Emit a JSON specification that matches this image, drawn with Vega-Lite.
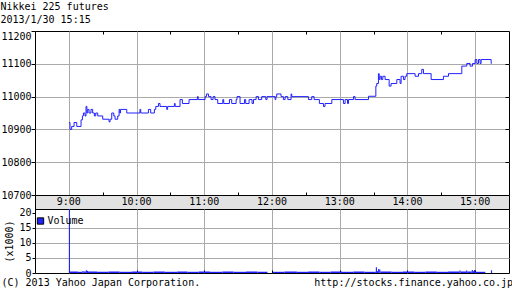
{
  "$schema": "https://vega.github.io/schema/vega-lite/v6.json",
  "padding": {"top": 2, "left": 0, "right": 0, "bottom": 0},
  "background": "white",
  "spacing": 0,
  "bounds": "flush",
  "resolve": {"legend": {"color": "independent"}},
  "title": {"text": ["Nikkei 225 futures", "2013/1/30 15:15"], "anchor": "start", "frame": "bounds", "font": "DejaVu Sans Mono", "fontSize": 10, "fontWeight": "normal", "color": "black", "lineHeight": 13, "offset": 5},
  "config": {
    "font": "DejaVu Sans Mono",
    "view": {"stroke": "black", "strokeWidth": 1},
    "axis": {"labelFont": "DejaVu Sans Mono", "labelFontSize": 10, "labelColor": "black", "titleFont": "DejaVu Sans Mono", "titleFontSize": 10, "titleFontWeight": "normal", "titleColor": "black", "gridColor": "#aaaaaa", "gridWidth": 1, "tickColor": "black", "domain": false}
  },
  "vconcat": [
    {
      "width": 474,
      "height": 164,
      "layer": [
        {
          "data": {"values": [
            {"t":540.1,"p":10921},{"t":541,"p":10900},{"t":542.5,"p":10909},{"t":544.6,"p":10921},{"t":547,"p":10909},{"t":550.8,"p":10929},{"t":552,"p":10941},{"t":552.9,"p":10950},{"t":554.3,"p":10941},{"t":555.2,"p":10970},{"t":556,"p":10950},{"t":556.7,"p":10961},{"t":557.9,"p":10950},{"t":559.6,"p":10961},{"t":561.1,"p":10950},{"t":562.6,"p":10941},{"t":563.8,"p":10950},{"t":565.6,"p":10941},{"t":570,"p":10931},{"t":575.6,"p":10923},{"t":576.5,"p":10931},{"t":578,"p":10950},{"t":579.8,"p":10941},{"t":580.9,"p":10931},{"t":583.3,"p":10941},{"t":584.5,"p":10961},{"t":585.2,"p":10950},{"t":585.8,"p":10961},{"t":591.3,"p":10950},{"t":603,"p":10961},{"t":603.7,"p":10950},{"t":610.5,"p":10961},{"t":612.5,"p":10950},{"t":615.8,"p":10961},{"t":617,"p":10970},{"t":619.4,"p":10979},{"t":620.8,"p":10970},{"t":626.7,"p":10961},{"t":627.5,"p":10970},{"t":633.5,"p":10979},{"t":634.2,"p":10970},{"t":638.5,"p":10991},{"t":640.6,"p":10979},{"t":646.5,"p":10991},{"t":653.9,"p":11000},{"t":654.6,"p":10991},{"t":660.7,"p":11000},{"t":661.9,"p":11008},{"t":663.7,"p":11000},{"t":666,"p":10991},{"t":667.8,"p":11000},{"t":669.5,"p":10991},{"t":671.9,"p":10979},{"t":676.4,"p":10991},{"t":677.2,"p":10979},{"t":682.3,"p":10991},{"t":684.3,"p":10979},{"t":688.2,"p":10991},{"t":689,"p":11000},{"t":691.7,"p":10979},{"t":695.6,"p":10991},{"t":696.7,"p":10979},{"t":699.7,"p":10991},{"t":702.3,"p":10979},{"t":703.6,"p":10991},{"t":705.9,"p":11000},{"t":708,"p":10991},{"t":710.9,"p":11000},{"t":714.5,"p":10991},{"t":715.6,"p":11000},{"t":722.7,"p":10991},{"t":723.4,"p":11000},{"t":724.2,"p":11008},{"t":728,"p":11000},{"t":730.1,"p":10991},{"t":731.6,"p":11000},{"t":734,"p":10991},{"t":736.9,"p":11008},{"t":737.5,"p":11000},{"t":752.3,"p":10991},{"t":755.2,"p":11000},{"t":757.3,"p":10991},{"t":762,"p":10979},{"t":765.6,"p":10970},{"t":767,"p":10979},{"t":773,"p":10991},{"t":783.3,"p":10979},{"t":784.8,"p":10991},{"t":786.9,"p":10979},{"t":787.8,"p":10991},{"t":792.2,"p":11000},{"t":793.6,"p":10991},{"t":805.5,"p":11001},{"t":812,"p":11032},{"t":812.8,"p":11040},{"t":814.3,"p":11070},{"t":815,"p":11052},{"t":815.8,"p":11062},{"t":817,"p":11052},{"t":818.2,"p":11062},{"t":820.2,"p":11052},{"t":823.8,"p":11032},{"t":825.5,"p":11040},{"t":830.6,"p":11052},{"t":833.5,"p":11040},{"t":834.4,"p":11062},{"t":836.5,"p":11052},{"t":837.9,"p":11062},{"t":839.4,"p":11070},{"t":846.8,"p":11062},{"t":849.8,"p":11070},{"t":852.7,"p":11083},{"t":854.2,"p":11070},{"t":861,"p":11052},{"t":871.9,"p":11062},{"t":876.4,"p":11070},{"t":888.2,"p":11093},{"t":892.6,"p":11101},{"t":895.5,"p":11093},{"t":897.7,"p":11101},{"t":900,"p":11113},{"t":901.5,"p":11101},{"t":903,"p":11113},{"t":904.4,"p":11101},{"t":905.3,"p":11113},{"t":914.2,"p":11101},{"t":914.6,"p":11101}
          ]},
          "mark": {"type": "line", "interpolate": "step-after", "color": "#2121ff", "strokeWidth": 1},
          "encoding": {
            "x": {"field": "t", "type": "quantitative", "scale": {"domain": [510, 930], "nice": false, "zero": false},
              "axis": {"orient": "top", "values": [540, 570, 600, 630, 660, 690, 720, 750, 780, 810, 840, 870, 900], "labels": false, "tickSize": -3, "grid": true,
                "gridOpacity": {"condition": {"test": "datum.value % 60 == 0", "value": 1}, "value": 0},
                "tickOpacity": {"condition": {"test": "datum.value % 60 == 0", "value": 0}, "value": 1}, "title": null}},
            "y": {"field": "p", "type": "quantitative", "scale": {"domain": [10700, 11200], "nice": false, "zero": false},
              "axis": {"values": [10700, 10800, 10900, 11000, 11100, 11200], "format": "d", "tickSize": 4, "labelPadding": 0, "title": null, "grid": true,
                "gridOpacity": {"condition": {"test": "datum.value > 10700 && datum.value < 11200", "value": 1}, "value": 0},
                "labelBaseline": {"condition": {"test": "datum.value == 11200", "value": "top"}, "value": "middle"}}}
          }
        },
        {
          "mark": {"type": "rule", "color": "#e03c3c", "strokeDash": [3, 3], "strokeWidth": 1},
          "encoding": {
            "y": {"datum": 10890, "type": "quantitative", "scale": {"domain": [10700, 11200], "nice": false, "zero": false},
              "axis": {"orient": "right", "values": [10800, 10900, 11000, 11100], "labels": false, "tickSize": -4, "grid": false, "title": null}}
          }
        }
      ],
      "resolve": {"scale": {"y": "independent"}, "axis": {"y": "independent"}}
    },
    {
      "width": 474,
      "height": 14,
      "view": {"fill": "#e2e2e2", "stroke": "black"},
      "data": {"values": [
        {"t": 540, "label": "9:00"}, {"t": 600, "label": "10:00"}, {"t": 660, "label": "11:00"}, {"t": 720, "label": "12:00"}, {"t": 780, "label": "13:00"}, {"t": 840, "label": "14:00"}, {"t": 900, "label": "15:00"}
      ]},
      "mark": {"type": "text", "font": "DejaVu Sans Mono", "fontSize": 10, "color": "black", "baseline": "middle", "align": "center"},
      "encoding": {
        "x": {"field": "t", "type": "quantitative", "scale": {"domain": [510, 930], "nice": false, "zero": false},
          "axis": {"orient": "top", "values": [570, 630, 690, 750, 810, 870], "labels": false, "tickSize": 3, "grid": false, "title": null}},
        "text": {"field": "label"}
      }
    },
    {
      "width": 474,
      "height": 64,
      "title": {"text": "http://stocks.finance.yahoo.co.jp", "orient": "bottom", "anchor": "end", "offset": -10, "dx": 4, "font": "DejaVu Sans Mono", "fontSize": 10, "fontWeight": "normal", "color": "black"},
      "data": {"values": [
        {"s":540,"e":541,"v":24},{"s":541,"e":548,"v":0.5},{"s":548,"e":552,"v":0.4},{"s":552,"e":553,"v":0.7},{"s":553,"e":555,"v":0.5},{"s":555,"e":556,"v":0.9},{"s":556,"e":557,"v":0.7},{"s":557,"e":565,"v":0.5},{"s":565,"e":575,"v":0.4},{"s":575,"e":585,"v":0.5},{"s":585,"e":596,"v":0.4},{"s":596,"e":605,"v":0.5},{"s":605,"e":615,"v":0.4},{"s":615,"e":625,"v":0.5},{"s":625,"e":636,"v":0.4},{"s":636,"e":645,"v":0.5},{"s":645,"e":655,"v":0.4},{"s":655,"e":665,"v":0.5},{"s":665,"e":676,"v":0.4},{"s":676,"e":686,"v":0.5},{"s":686,"e":697,"v":0.4},{"s":697,"e":707,"v":0.5},{"s":707,"e":716,"v":0.4},{"s":721,"e":731,"v":0.4},{"s":731,"e":742,"v":0.5},{"s":742,"e":752,"v":0.4},{"s":752,"e":762,"v":0.5},{"s":762,"e":772,"v":0.4},{"s":772,"e":782,"v":0.5},{"s":782,"e":792,"v":0.4},{"s":792,"e":802,"v":0.5},{"s":802,"e":812,"v":0.4},{"s":812,"e":813,"v":1.9},{"s":813,"e":814,"v":0.6},{"s":814,"e":815,"v":1.3},{"s":815,"e":816,"v":1.2},{"s":816,"e":826,"v":0.5},{"s":826,"e":836,"v":0.4},{"s":836,"e":846,"v":0.5},{"s":846,"e":856,"v":0.4},{"s":856,"e":866,"v":0.5},{"s":866,"e":876,"v":0.4},{"s":876,"e":886,"v":0.5},{"s":886,"e":887,"v":0.8},{"s":887,"e":892,"v":0.5},{"s":892,"e":893,"v":0.8},{"s":893,"e":897,"v":0.5},{"s":897,"e":898,"v":1.0},{"s":898,"e":899,"v":0.6},{"s":899,"e":900,"v":1.0},{"s":900,"e":909,"v":0.4},{"s":914,"e":915,"v":0.9}
      ]},
      "mark": {"type": "bar", "clip": true},
      "encoding": {
        "x": {"field": "s", "type": "quantitative", "scale": {"domain": [510, 930], "nice": false, "zero": false},
          "axis": {"values": [540, 600, 660, 720, 780, 840, 900], "labels": false, "tickSize": -3, "grid": true,
            "title": "(C) 2013 Yahoo Japan Corporation.", "titleAnchor": "start", "titleAlign": "left", "titleX": -34, "titleY": 12.5, "titleBaseline": "alphabetic"}},
        "x2": {"field": "e"},
        "y": {"field": "v", "type": "quantitative", "scale": {"domain": [0, 21.2], "nice": false},
          "axis": {"values": [0, 5, 10, 15, 20], "tickSize": 3, "labelPadding": 1, "title": "(x1000)", "titlePadding": 4,
            "gridOpacity": {"condition": {"test": "datum.value > 0 && datum.value < 20", "value": 1}, "value": 0}}},
        "y2": {"datum": 0},
        "color": {"datum": "Volume", "scale": {"range": ["#2121ff"]},
          "legend": {"orient": "none", "legendX": 0.5, "legendY": 7, "title": null, "symbolType": "square", "symbolSize": 40, "symbolStrokeColor": "black", "symbolStrokeWidth": 1, "labelFont": "DejaVu Sans Mono", "labelFontSize": 10, "labelColor": "black", "labelOffset": 2, "padding": 0}}
      }
    }
  ]
}
